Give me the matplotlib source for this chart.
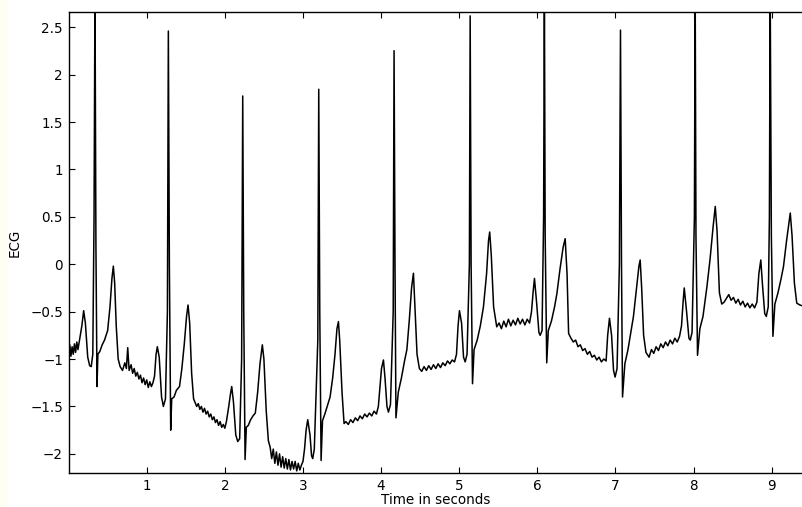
"""
ECG trace over about 9.4 seconds, drawn as a MATLAB-style line plot.
Values are read off the reference picture beat by beat.
"""

import numpy as np
import matplotlib
matplotlib.use("Agg")
import matplotlib.pyplot as plt
from matplotlib.patches import Rectangle

# # DATA (seconds, ECG amplitude)

time_s = [
    # lead-in + beat 1
    0.00, 0.015, 0.03, 0.045, 0.06, 0.075, 0.09, 0.105, 0.12, 0.14, 0.17, 0.193, 0.215, 0.245, 0.27, 0.29, 0.31, 0.326, 0.338, 0.35, 0.364, 0.375,
    0.40, 0.43, 0.46, 0.50, 0.53, 0.555, 0.573, 0.59, 0.61, 0.635, 0.66, 0.69, 0.72, 0.74, 0.757, 0.775, 0.80, 0.82, 0.84, 0.86, 0.88, 0.90, 0.92, 0.94, 0.96, 0.98, 1.00, 1.02, 1.04, 1.06, 1.08, 1.10,
    # beat 2
    1.12, 1.136, 1.16, 1.19, 1.213, 1.24, 1.265, 1.277, 1.29, 1.307, 1.32, 1.35, 1.38, 1.42, 1.45, 1.48, 1.51, 1.529, 1.55, 1.575, 1.60,
    1.62, 1.64, 1.66, 1.68, 1.70, 1.72, 1.74, 1.76, 1.78, 1.80, 1.82, 1.84, 1.86, 1.88, 1.90, 1.92, 1.94, 1.96, 1.98, 2.00, 2.02, 2.05,
    # beat 3
    2.07, 2.088, 2.11, 2.14, 2.165, 2.19, 2.215, 2.229, 2.242, 2.259, 2.275, 2.30, 2.33, 2.36, 2.39, 2.42, 2.45, 2.48, 2.50, 2.53, 2.557,
    2.58, 2.60, 2.62, 2.64, 2.66, 2.68, 2.70, 2.72, 2.74, 2.76, 2.78, 2.80, 2.82, 2.84, 2.86, 2.88, 2.90, 2.92, 2.94, 2.96, 2.98, 3.00,
    # beat 4
    3.02, 3.04, 3.061, 3.09, 3.11, 3.125, 3.145, 3.19, 3.202, 3.215, 3.232, 3.25, 3.28, 3.31, 3.347, 3.38, 3.41, 3.435, 3.454, 3.47, 3.50, 3.526,
    3.55, 3.58, 3.61, 3.64, 3.67, 3.70, 3.73, 3.76, 3.79, 3.82, 3.85, 3.88, 3.91, 3.94, 3.965,
    # beat 5
    3.985, 4.005, 4.03, 4.05, 4.075, 4.094, 4.12, 4.155, 4.166, 4.178, 4.19, 4.22, 4.26, 4.30, 4.33, 4.36, 4.39, 4.414, 4.43, 4.46, 4.49,
    4.52, 4.55, 4.58, 4.61, 4.64, 4.67, 4.70, 4.73, 4.76, 4.79, 4.82, 4.85, 4.88, 4.91, 4.94, 4.965,
    # beat 6
    4.985, 5.003, 5.03, 5.055, 5.076, 5.10, 5.13, 5.14, 5.152, 5.17, 5.19, 5.23, 5.27, 5.31, 5.35, 5.375, 5.39, 5.41, 5.44, 5.48,
    5.51, 5.54, 5.57, 5.60, 5.63, 5.66, 5.69, 5.72, 5.75, 5.78, 5.81, 5.84, 5.87, 5.90, 5.925,
    # beat 7
    5.945, 5.963, 5.99, 6.02, 6.036, 6.06, 6.08, 6.09, 6.10, 6.12, 6.14, 6.18, 6.22, 6.25, 6.29, 6.33, 6.356, 6.38, 6.40,
    6.43, 6.46, 6.49, 6.52, 6.55, 6.58, 6.61, 6.64, 6.67, 6.70, 6.73, 6.76, 6.79, 6.82, 6.85, 6.88,
    # beat 8
    6.90, 6.923, 6.95, 6.975, 6.995, 7.02, 7.05, 7.064, 7.077, 7.09, 7.12, 7.16, 7.20, 7.23, 7.27, 7.30, 7.316, 7.335, 7.36, 7.39, 7.43,
    7.46, 7.49, 7.52, 7.55, 7.58, 7.61, 7.64, 7.67, 7.70, 7.73, 7.76, 7.79, 7.82, 7.845,
    # beat 9
    7.865, 7.88, 7.91, 7.94, 7.957, 7.98, 8.01, 8.02, 8.03, 8.05, 8.08, 8.12, 8.17, 8.21, 8.25, 8.277, 8.30, 8.33, 8.36,
    8.39, 8.42, 8.45, 8.48, 8.51, 8.54, 8.57, 8.60, 8.63, 8.66, 8.69, 8.72, 8.75, 8.78, 8.81,
    # beat 10
    8.835, 8.86, 8.88, 8.91, 8.93, 8.955, 8.97, 8.98, 8.995, 9.015, 9.04, 9.08, 9.12, 9.15, 9.19, 9.237, 9.26, 9.29, 9.32, 9.36, 9.40,
]

ecg = [
    -0.92, -0.85, -0.97, -0.87, -0.95, -0.84, -0.93, -0.82, -0.90, -0.80, -0.65, -0.49, -0.62, -0.98, -1.07, -1.08, -0.95, 0.50, 2.90, 0.20, -1.29, -0.95,
    -0.92, -0.85, -0.80, -0.70, -0.45, -0.15, -0.02, -0.20, -0.65, -1.00, -1.08, -1.12, -1.04, -1.10, -0.88, -1.12, -1.06, -1.15, -1.10, -1.18, -1.14, -1.21, -1.17, -1.25, -1.20, -1.27, -1.22, -1.30, -1.24, -1.29, -1.25, -1.18,
    -0.95, -0.87, -0.98, -1.40, -1.50, -1.42, -0.50, 2.46, 0.00, -1.75, -1.42, -1.40, -1.33, -1.29, -1.10, -0.85, -0.55, -0.43, -0.62, -1.15, -1.42,
    -1.46, -1.50, -1.47, -1.53, -1.50, -1.56, -1.52, -1.58, -1.55, -1.61, -1.58, -1.64, -1.61, -1.67, -1.64, -1.70, -1.66, -1.72, -1.69, -1.73, -1.66, -1.50,
    -1.38, -1.29, -1.45, -1.80, -1.87, -1.84, -1.00, 1.775, -0.50, -2.06, -1.72, -1.70, -1.64, -1.60, -1.57, -1.35, -1.05, -0.85, -1.00, -1.55, -1.86,
    -1.93, -2.05, -1.95, -2.10, -1.98, -2.12, -2.00, -2.14, -2.03, -2.15, -2.05, -2.16, -2.06, -2.17, -2.08, -2.16, -2.08, -2.18, -2.10, -2.17, -2.12, -2.08,
    -1.95, -1.75, -1.64, -1.80, -2.02, -2.05, -1.95, -0.80, 1.846, -0.50, -2.07, -1.65, -1.58, -1.50, -1.40, -1.20, -0.95, -0.68, -0.605, -0.80, -1.35, -1.68,
    -1.66, -1.69, -1.64, -1.67, -1.62, -1.65, -1.60, -1.63, -1.58, -1.61, -1.57, -1.60, -1.55, -1.58, -1.50,
    -1.30, -1.10, -1.01, -1.20, -1.50, -1.56, -1.48, -0.50, 2.253, 0.00, -1.62, -1.35, -1.20, -1.02, -0.90, -0.60, -0.25, -0.095, -0.40, -0.95, -1.10,
    -1.13, -1.08, -1.12, -1.07, -1.11, -1.06, -1.10, -1.05, -1.09, -1.04, -1.07, -1.02, -1.05, -1.01, -1.03, -0.95,
    -0.65, -0.49, -0.62, -0.98, -1.03, -0.95, 0.00, 2.62, 0.00, -1.26, -0.90, -0.80, -0.65, -0.45, -0.10, 0.25, 0.34, 0.10, -0.45, -0.66,
    -0.62, -0.68, -0.60, -0.66, -0.58, -0.65, -0.59, -0.64, -0.57, -0.63, -0.58, -0.64, -0.58, -0.62, -0.50,
    -0.30, -0.15, -0.40, -0.72, -0.75, -0.70, 0.50, 2.90, 0.30, -1.04, -0.70, -0.60, -0.45, -0.31, -0.05, 0.18, 0.27, -0.10, -0.73,
    -0.78, -0.82, -0.80, -0.87, -0.85, -0.91, -0.89, -0.95, -0.92, -0.98, -0.96, -1.01, -0.98, -1.03, -1.00, -1.02,
    -0.75, -0.57, -0.75, -1.12, -1.19, -1.10, 0.00, 2.47, 0.00, -1.40, -1.05, -0.90, -0.70, -0.55, -0.25, -0.02, 0.045, -0.25, -0.75, -0.93, -0.98,
    -0.90, -0.94, -0.87, -0.91, -0.84, -0.88, -0.82, -0.86, -0.80, -0.84, -0.78, -0.82, -0.76, -0.65,
    -0.40, -0.25, -0.50, -0.78, -0.80, -0.72, 0.50, 2.90, 0.30, -0.96, -0.68, -0.55, -0.24, 0.05, 0.40, 0.61, 0.35, -0.30, -0.42,
    -0.40, -0.36, -0.32, -0.38, -0.35, -0.41, -0.37, -0.43, -0.39, -0.45, -0.41, -0.46, -0.42, -0.46, -0.40,
    -0.10, 0.045, -0.20, -0.52, -0.55, -0.45, 0.50, 2.90, 0.30, -0.76, -0.42, -0.30, -0.15, -0.025, 0.25, 0.54, 0.30, -0.20, -0.41, -0.43, -0.44,
]

x_ticks = [1, 2, 3, 4, 5, 6, 7, 8, 9]
y_ticks = [-2, -1.5, -1, -0.5, 0, 0.5, 1, 1.5, 2, 2.5]
y_tick_labels = ["\u22122", "\u22121.5", "\u22121", "\u22120.5", "0", "0.5", "1", "1.5", "2", "2.5"]

assert len(time_s) == len(ecg), (len(time_s), len(ecg))

# # PLOT

# wide sans font, the reference text is stretched horizontally
plt.rcParams["font.family"] = ["DejaVu Sans"]

fig = plt.figure(figsize=(8.03, 5.07), dpi=100)
fig.patches.append(Rectangle((0, 0), 0.0075, 1, transform=fig.transFigure,
                             color="#fffef2", zorder=0))
ax = fig.add_axes([0.0854, 0.0665, 0.9146, 0.9093])

ax.plot(time_s, ecg, color="black", linewidth=1.1)

ax.set_xlim(0, 9.4)
ax.set_ylim(-2.205, 2.658)
ax.set_xticks(x_ticks)
ax.set_xticklabels([str(t) for t in x_ticks])
ax.set_yticks(y_ticks)
ax.set_yticklabels(y_tick_labels)

ax.tick_params(direction="in", top=True, right=False, length=4.5, width=0.8,
               labelsize=9.75, pad=4)
ax.spines["right"].set_visible(False)
for side in ["left", "top", "bottom"]:
    ax.spines[side].set_linewidth(1.0)

ax.set_xlabel("Time in seconds", fontsize=9.75, labelpad=0)
ax.set_ylabel("ECG", fontsize=9.75, labelpad=6)

fig.savefig("out.png", dpi=100)
